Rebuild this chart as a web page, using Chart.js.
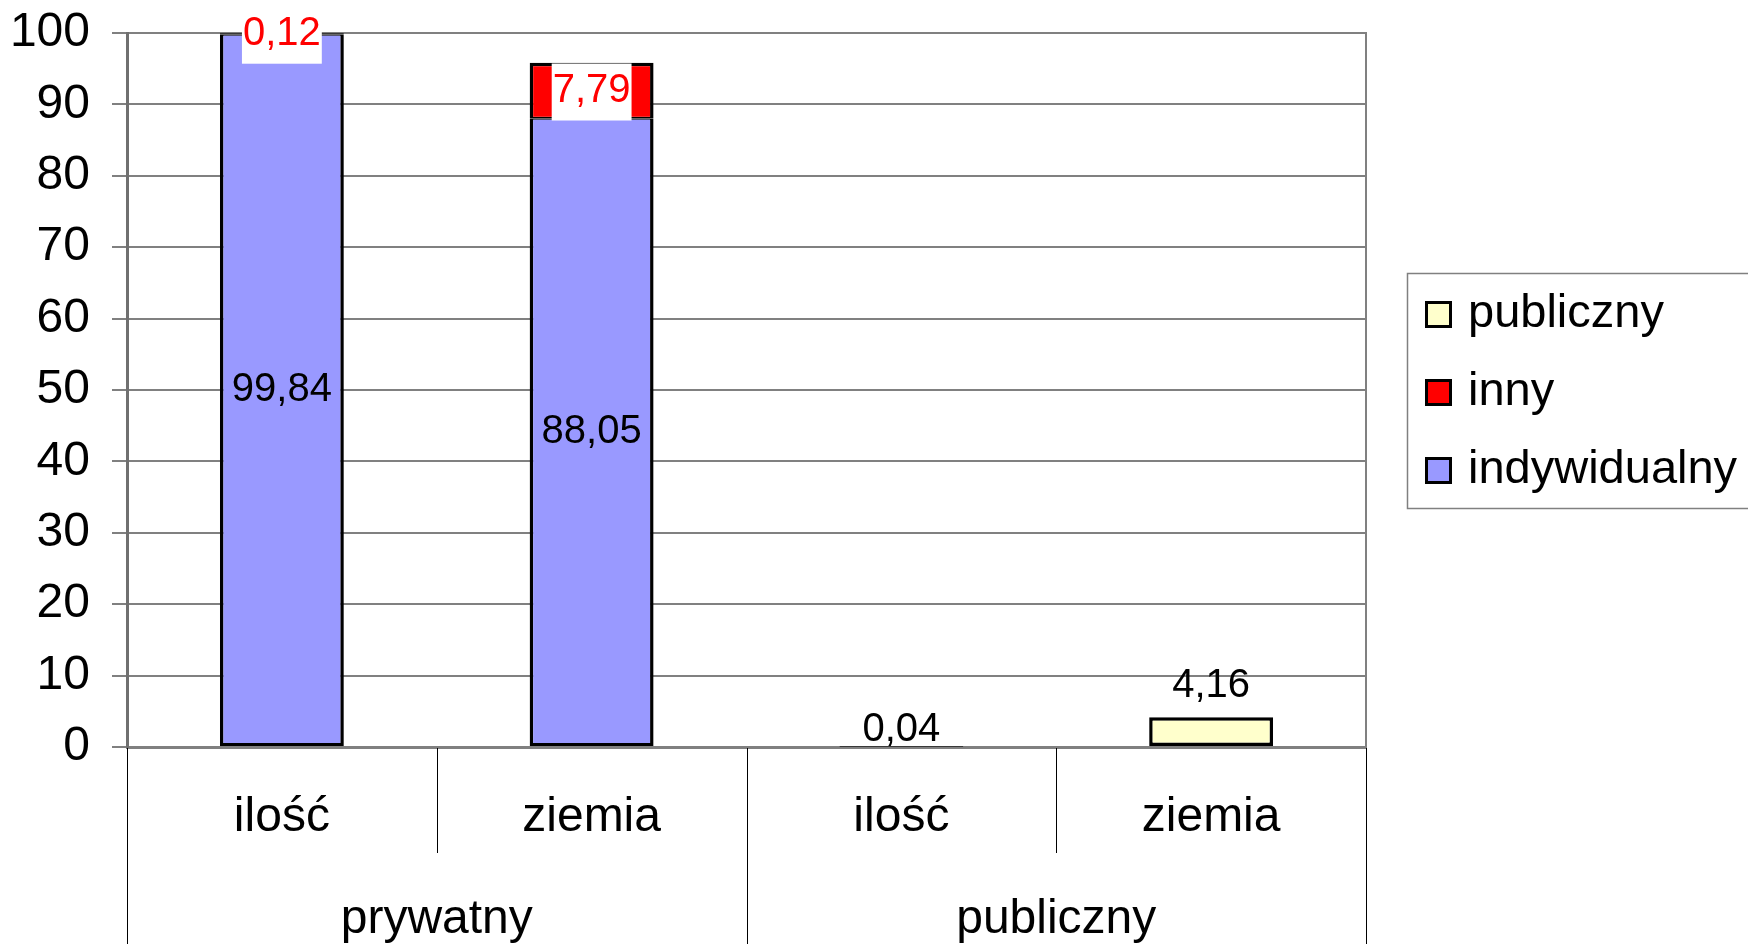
<!DOCTYPE html>
<html><head><meta charset="utf-8">
<script src="https://cdn.jsdelivr.net/npm/chart.js@4.4.1/dist/chart.umd.min.js"></script>
<style>html,body{margin:0;padding:0;background:#fff;overflow:hidden}#wrap{width:1748px;height:944px;position:relative}</style>
</head><body><div id="wrap"><canvas id="c" width="1748" height="944"></canvas></div>
<script>
// ---- data ----
const categories = ['ilość', 'ziemia', 'ilość', 'ziemia'];
const groupLabels = ['prywatny', 'publiczny'];
const groupMembers = [[0, 1], [2, 3]];
const seriesNames = ['indywidualny', 'inny', 'publiczny'];
const indywidualny = [99.84, 88.05, null, null];
const inny = [0.12, 7.79, null, null];
const publiczny = [null, null, 0.04, 4.16];
const yMin = 0, yMax = 100, yStep = 10;

const FONT = '"Liberation Sans", Arial, sans-serif';
const fmt = v => v.toFixed(2).replace('.', ',');

const labelPlugin = {
  id: 'valueLabels',
  afterDatasetsDraw(chart) {
    const ctx = chart.ctx;
    chart.data.datasets.forEach((ds, di) => {
      const meta = chart.getDatasetMeta(di);
      const cfg = ds.valueLabel;
      meta.data.forEach((el, i) => {
        const v = ds.data[i];
        if (v === null || v === undefined) return;
        const p = el.getProps(['x', 'y', 'base'], true);
        let cy;
        if (cfg.anchor === 'center') cy = (p.y + p.base) / 2;
        else cy = p.y - (cfg.offsets ? cfg.offsets[i] : 20);
        ctx.save();
        ctx.font = '40px ' + FONT;
        ctx.textAlign = 'center';
        ctx.textBaseline = 'middle';
        const t = fmt(v);
        const w = ctx.measureText(t).width;
        if (cfg.bg) {
          ctx.fillStyle = cfg.bg;
          ctx.fillRect(p.x - w / 2 - 1, cy - 27, w + 2, 57);
        }
        ctx.fillStyle = cfg.color;
        ctx.fillText(t, p.x, cy);
        ctx.restore();
      });
    });
  }
};

const framePlugin = {
  id: 'frameAndGroups',
  afterDraw(chart) {
    const ctx = chart.ctx;
    const xs = chart.scales.x;
    const a = chart.chartArea;
    ctx.save();
    // right border of plot area
    ctx.strokeStyle = '#808080';
    ctx.lineWidth = 2;
    ctx.beginPath();
    ctx.moveTo(a.right, a.top - 1);
    ctx.lineTo(a.right, a.bottom);
    ctx.stroke();
    // category dividers
    ctx.strokeStyle = '#000';
    ctx.lineWidth = 1;
    const H = chart.height;
    const minorBottom = a.bottom + 106;
    const edges = [];
    for (let i = 0; i <= categories.length; i++) {
      let x;
      if (i === 0) x = xs.left;
      else if (i === categories.length) x = xs.right;
      else x = (xs.getPixelForValue(i - 1) + xs.getPixelForValue(i)) / 2;
      edges.push(x);
    }
    const groupEdgeIdx = new Set([0]);
    groupMembers.forEach(g => groupEdgeIdx.add(g[g.length - 1] + 1));
    edges.forEach((x, i) => {
      const xx = Math.round(x) + 0.5;
      ctx.beginPath();
      ctx.moveTo(xx, a.bottom + 1);
      ctx.lineTo(xx, groupEdgeIdx.has(i) ? H : minorBottom);
      ctx.stroke();
    });
    // group labels
    ctx.fillStyle = '#000';
    ctx.font = '48px ' + FONT;
    ctx.textAlign = 'center';
    ctx.textBaseline = 'middle';
    groupMembers.forEach((g, gi) => {
      const x0 = edges[g[0]], x1 = edges[g[g.length - 1] + 1];
      ctx.fillText(groupLabels[gi], (x0 + x1) / 2, a.bottom + 173);
    });
    // legend
    const lx = 1407, ly = 273, lw = 360, lh = 235;
    ctx.strokeStyle = '#808080';
    ctx.lineWidth = 1.5;
    ctx.strokeRect(lx + 0.5, ly + 0.5, lw, lh);
    ctx.font = '47px ' + FONT;
    ctx.textAlign = 'left';
    const items = chart.data.datasets.slice().reverse();
    items.forEach((ds, k) => {
      const cy = 314 + k * 78;
      ctx.fillStyle = ds.backgroundColor;
      ctx.fillRect(1425, cy - 13, 27, 27);
      ctx.strokeStyle = '#000';
      ctx.lineWidth = 3;
      ctx.strokeRect(1426.5, cy - 11.5, 24, 24);
      ctx.fillStyle = '#000';
      ctx.fillText(ds.label, 1468, cy);
    });
    ctx.restore();
  }
};

new Chart(document.getElementById('c'), {
  type: 'bar',
  data: {
    labels: categories,
    datasets: [
      { label: seriesNames[0], data: indywidualny, backgroundColor: '#9999FF', borderColor: '#000',
        borderWidth: {top: 1.5, left: 3.5, right: 3.5, bottom: 3}, borderSkipped: false,
        valueLabel: {anchor: 'center', color: '#000'} },
      { label: seriesNames[1], data: inny, backgroundColor: '#FF0000', borderColor: '#000',
        borderWidth: {top: 3.5, left: 3.5, right: 3.5, bottom: 1.5}, borderSkipped: false,
        valueLabel: {anchor: 'center', color: '#FF0000', bg: '#FFFFFF'} },
      { label: seriesNames[2], data: publiczny, backgroundColor: '#FFFFCC', borderColor: '#000',
        borderWidth: 3.5, borderSkipped: false,
        valueLabel: {anchor: 'end', color: '#000', offsets: [0, 0, 17, 31]} }
    ]
  },
  options: {
    responsive: false,
    animation: false,
    devicePixelRatio: 1,
    layout: { padding: { left: 0, right: 382, top: 33, bottom: 0 } },
    plugins: { legend: { display: false }, tooltip: { enabled: false } },
    datasets: { bar: { categoryPercentage: 1, barPercentage: 0.4 } },
    scales: {
      x: {
        stacked: true,
        grid: { display: true, drawOnChartArea: false, drawTicks: false, color: 'rgba(0,0,0,0)' },
        border: { color: '#808080', width: 3 },
        ticks: { color: '#000', font: { family: FONT, size: 48 }, padding: 42, maxRotation: 0, autoSkip: false },
        afterFit(s) { s.height = 197; s.paddingLeft = 0; s.paddingRight = 0; }
      },
      y: {
        stacked: true,
        min: yMin, max: yMax,
        grid: { color: '#808080', lineWidth: 2, tickLength: 15 },
        border: { color: '#707070', width: 3 },
        ticks: { stepSize: yStep, color: '#000', font: { family: FONT, size: 48 }, padding: 22 },
        afterFit(s) { s.width = 127; s.paddingTop = 0; s.paddingBottom = 0; }
      }
    }
  },
  plugins: [labelPlugin, framePlugin]
});
</script>
</body></html>
